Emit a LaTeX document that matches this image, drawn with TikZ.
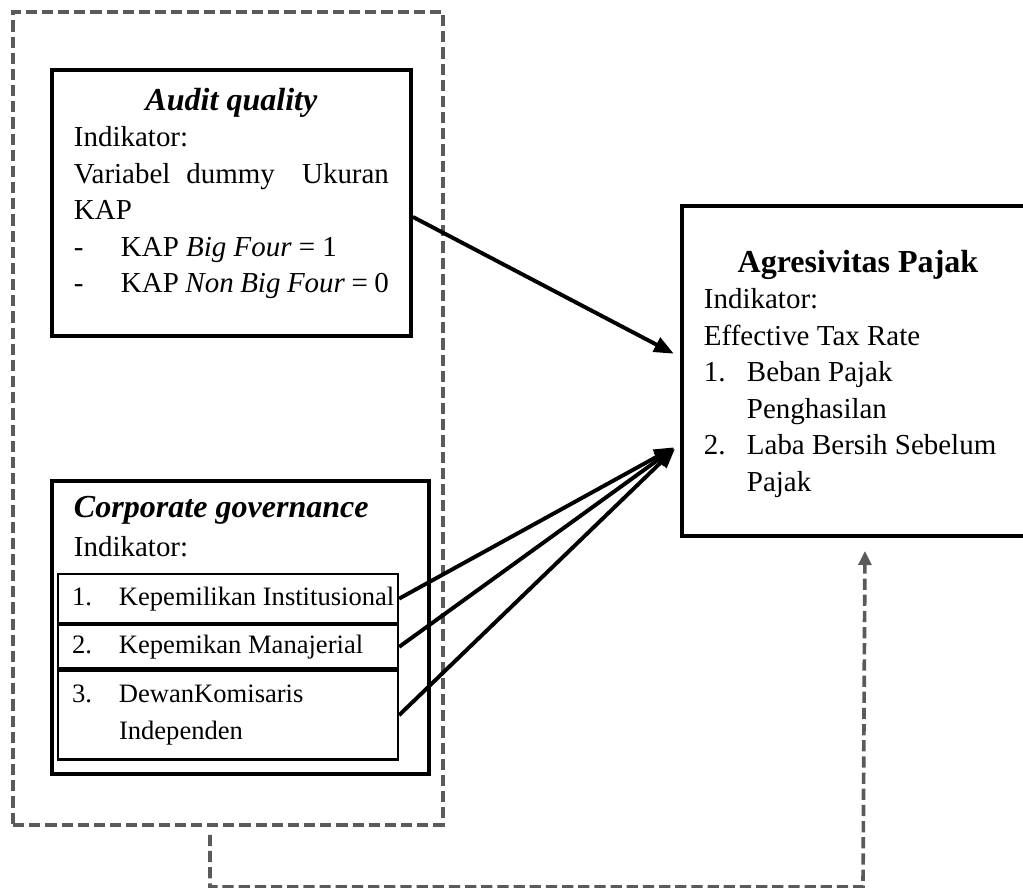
\documentclass[tikz,border=0pt]{standalone}
\usepackage{fontspec}
\setmainfont{Liberation Serif}
\usetikzlibrary{arrows.meta,positioning}
\definecolor{dash_gray}{RGB}{90,90,90}
\newcommand{\txtbody}{\fontsize{20.6pt}{26pt}\selectfont}
\newcommand{\txttitle}{\fontsize{22.8pt}{26pt}\selectfont}
\newcommand{\txtrow}{\fontsize{18.9pt}{26.3pt}\selectfont}
\newcommand{\itemlbl}[2]{\makebox[#1][l]{#2}}

\begin{document}
\begin{tikzpicture}[->,>={Triangle[length=14pt,width=11pt]},line width=2.8pt]
    \tikzstyle{box}=[draw=black, line width=2.8pt, rectangle, inner xsep=0.55cm, text=black]
    \tikzstyle{grpbox}=[draw=dash_gray, line width=2.6pt, dash pattern=on 8pt off 3.5pt, inner sep=0pt]
    \tikzstyle{rowbox}=[draw=black, line width=1.6pt, minimum width=8.5cm, inner xsep=0.35cm, text width=7.8cm, align=flush left, font=\txtrow, anchor=north]
    \tikzstyle{lbl}=[inner sep=0pt, anchor=base west]
    \tikzstyle{link}=[black, line width=2.8pt, shorten >=0.175cm]
    \tikzstyle{linkdash}=[draw=dash_gray, line width=2.6pt, dash pattern=on 8pt off 3.5pt, -{Triangle[length=10pt,width=9pt]}]

    \useasboundingbox (0,0) rectangle (25.575,22.2);

    % dashed group round the two independent variables
    \node[grpbox, minimum width=10.75cm, minimum height=20.325cm] (grp) at (5.7,11.7375) {};

    \node[box, anchor=north west, inner ysep=0.45cm] (aq) at (1.25,20.5) {\parbox[c][5.75cm][t]{7.875cm}{\txtbody
      {\centering\txttitle\textbf{\textit{Audit quality}}\par}
      Indikator:\\
      Variabel\hspace{0.4cm}dummy\hfill Ukuran\\
      KAP\\
      \itemlbl{1.175cm}{-}KAP \textit{Big Four} = 1\\
      \itemlbl{1.175cm}{-}KAP \textit{Non Big Four} = 0}};

    \node[box, anchor=north west, inner sep=0pt, minimum width=9.425cm, minimum height=7.325cm] (cg) at (1.25,10.225) {};
    \node[lbl] (cgtitle) at (1.8,9.25) {\txttitle\textbf{\textit{Corporate governance}}};
    \node[lbl] (cgind) at (1.8,8.275) {\txtbody Indikator:};

    \node[rowbox, minimum height=1.225cm] (ind1) at (5.7,7.875) {\itemlbl{1.175cm}{1.}\mbox{Kepemilikan Institusional}};
    \node[rowbox, minimum height=1.075cm, below=0pt of ind1] (ind2) {\itemlbl{1.175cm}{2.}\mbox{Kepemikan Manajerial}};
    \node[rowbox, minimum height=2.225cm, below=0pt of ind2] (ind3) {\itemlbl{1.175cm}{3.}DewanKomisaris\\\hspace*{1.175cm}Independen};

    \node[box, anchor=north west, inner ysep=1.1cm] (agr) at (17.0,17.1) {\parbox[c][6.05cm][t]{7.7cm}{\txtbody
      {\centering\txttitle\textbf{Agresivitas Pajak}\par}
      Indikator:\\
      Effective Tax Rate\\
      \itemlbl{1.075cm}{1.}Beban Pajak\\
      \hspace*{1.075cm}Penghasilan\\
      \itemlbl{1.075cm}{2.}Laba Bersih Sebelum\\
      \hspace*{1.075cm}Pajak}};

    \draw[link] ([yshift=-0.35cm]aq.east) -- ([yshift=0.35cm]agr.west);
    \foreach \r in {ind1,ind2,ind3}
      \draw[link] (\r.east) -- ([yshift=-1.825cm]agr.west);

    % joint effect, dashed
    \coordinate (dstart) at ([xshift=-0.45cm,yshift=-0.2cm]grp.south);
    \coordinate (dend) at ([xshift=0.175cm,yshift=-0.325cm]agr.south);
    \coordinate (dturn) at (21.575,0.025);
    \draw[linkdash] (dstart) |- (dturn) -- (dend);
\end{tikzpicture}
\end{document}
